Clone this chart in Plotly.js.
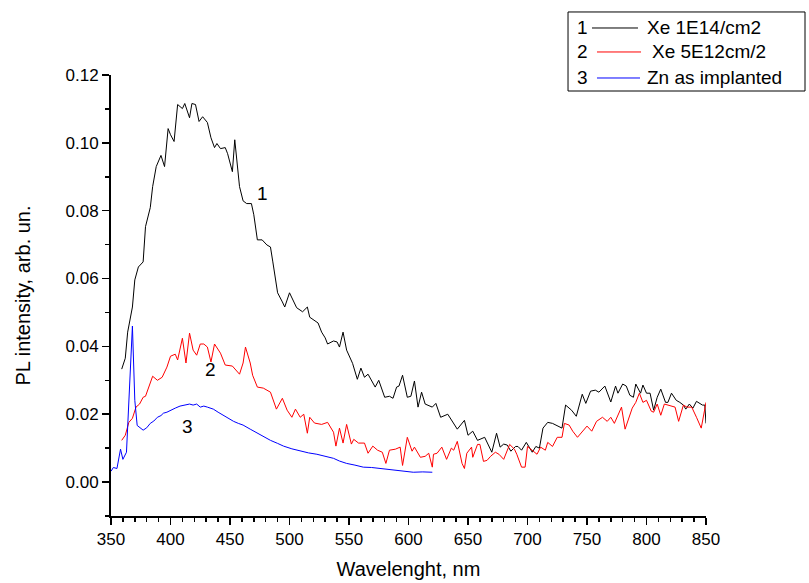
<!DOCTYPE html>
<html>
<head>
<meta charset="utf-8">
<script src="https://cdn.plot.ly/plotly-3.0.1.min.js"></script>
<style>html,body{margin:0;padding:0;background:#fff;}#chart{width:809px;height:583px;}</style>
</head>
<body>
<div id="chart"></div>
<script>
// Curve 1: Xe 1E14/cm2
const wl1 = [359,362,364,368,370,373,377,379,383,385,388,390,392,395,398,400,403,406,410,412,416,418,421,424,427,431,434,437,439,442,446,448,452,454,458,461,464,468,470,473,477,481,484,486,488,490,494,496,500,503,506,511,515,517,521,524,527,530,532,537,540,542,545,548,553,557,560,563,566,572,575,580,584,587,590,592,595,599,602,605,608,611,614,620,623,627,633,641,647,650,654,658,664,670,674,677,680,683,686,690,692,695,699,704,707,710,713,717,721,729,732,737,741,746,749,753,757,760,765,770,774,776,780,783,786,789,791,795,797,800,803,806,809,812,816,818,821,825,828,831,833,836,839,842,847,849,850];
const pl1 = [0.0333,0.0365,0.0442,0.0516,0.0596,0.0634,0.0649,0.0753,0.0809,0.0871,0.0930,0.0945,0.0963,0.0930,0.1042,0.1024,0.1004,0.1113,0.1101,0.1116,0.1074,0.1116,0.1113,0.1063,0.1077,0.1060,0.1015,0.0986,0.0998,0.0983,0.0986,0.0968,0.0915,0.1009,0.0871,0.0829,0.0821,0.0821,0.0788,0.0714,0.0714,0.0699,0.0693,0.0649,0.0605,0.0558,0.0531,0.0516,0.0558,0.0537,0.0514,0.0502,0.0516,0.0486,0.0477,0.0469,0.0442,0.0425,0.0407,0.0416,0.0413,0.0398,0.0442,0.0389,0.0350,0.0303,0.0336,0.0309,0.0318,0.0280,0.0300,0.0250,0.0253,0.0247,0.0280,0.0283,0.0315,0.0250,0.0253,0.0298,0.0221,0.0265,0.0230,0.0221,0.0232,0.0191,0.0200,0.0156,0.0182,0.0138,0.0150,0.0123,0.0132,0.0088,0.0144,0.0103,0.0112,0.0109,0.0091,0.0105,0.0105,0.0094,0.0117,0.0088,0.0105,0.0100,0.0159,0.0176,0.0173,0.0159,0.0227,0.0212,0.0194,0.0259,0.0232,0.0268,0.0271,0.0265,0.0283,0.0236,0.0283,0.0262,0.0289,0.0283,0.0256,0.0250,0.0289,0.0262,0.0286,0.0262,0.0262,0.0212,0.0250,0.0274,0.0235,0.0235,0.0262,0.0241,0.0235,0.0227,0.0215,0.0230,0.0218,0.0238,0.0227,0.0227,0.0173];

// Curve 2: Xe 5E12cm/2
const wl2 = [359,362,365,368,371,374,377,379,385,389,393,397,400,404,406,410,413,416,419,422,425,428,431,434,437,442,446,452,458,461,463,467,469,473,478,484,489,494,498,502,505,509,512,515,517,521,527,532,537,539,542,545,548,552,554,558,563,566,570,574,578,581,584,589,593,595,599,603,605,610,614,617,620,621,624,628,632,636,638,641,645,647,649,653,654,658,660,663,666,669,673,676,680,685,689,691,695,698,700,705,708,711,715,717,721,725,729,731,735,738,742,750,754,758,763,767,770,773,779,782,788,791,794,797,800,804,806,809,812,815,821,824,827,831,834,838,842,846,850];
const pl2 = [0.0123,0.0138,0.0176,0.0188,0.0221,0.0230,0.0250,0.0253,0.0312,0.0300,0.0309,0.0339,0.0371,0.0377,0.0360,0.0424,0.0351,0.0439,0.0389,0.0374,0.0407,0.0407,0.0398,0.0354,0.0407,0.0380,0.0345,0.0342,0.0318,0.0351,0.0398,0.0351,0.0315,0.0280,0.0277,0.0265,0.0215,0.0247,0.0212,0.0191,0.0215,0.0191,0.0200,0.0144,0.0191,0.0174,0.0170,0.0176,0.0147,0.0106,0.0159,0.0115,0.0170,0.0112,0.0126,0.0115,0.0115,0.0085,0.0106,0.0094,0.0088,0.0055,0.0094,0.0097,0.0103,0.0049,0.0132,0.0091,0.0103,0.0073,0.0076,0.0085,0.0044,0.0082,0.0085,0.0103,0.0067,0.0100,0.0094,0.0120,0.0055,0.0040,0.0085,0.0103,0.0073,0.0111,0.0111,0.0061,0.0064,0.0076,0.0088,0.0082,0.0067,0.0111,0.0097,0.0082,0.0044,0.0044,0.0105,0.0091,0.0082,0.0103,0.0094,0.0117,0.0105,0.0132,0.0132,0.0173,0.0168,0.0150,0.0132,0.0165,0.0150,0.0179,0.0191,0.0179,0.0191,0.0173,0.0221,0.0156,0.0218,0.0235,0.0262,0.0235,0.0241,0.0209,0.0206,0.0230,0.0197,0.0230,0.0224,0.0221,0.0179,0.0227,0.0221,0.0221,0.0191,0.0159,0.0235];

// Curve 3: Zn as implanted
const wl3 = [350,352,355,358,360,363,368,370,372,374,377,380,383,386,389,392,394,397,400,404,408,412,416,419,422,425,428,431,436,440,444,448,453,457,461,467,473,478,484,490,495,502,509,516,523,530,537,542,548,555,562,569,576,583,590,597,604,612,620];
const pl3 = [0.0032,0.0043,0.0040,0.0097,0.0067,0.0088,0.0460,0.0241,0.0167,0.0162,0.0153,0.0160,0.0173,0.0180,0.0191,0.0196,0.0203,0.0206,0.0212,0.0218,0.0224,0.0226,0.0230,0.0227,0.0230,0.0221,0.0224,0.0221,0.0215,0.0206,0.0197,0.0188,0.0179,0.0173,0.0168,0.0156,0.0144,0.0133,0.0123,0.0114,0.0106,0.0098,0.0091,0.0086,0.0082,0.0076,0.0070,0.0062,0.0055,0.0050,0.0044,0.0043,0.0040,0.0037,0.0035,0.0032,0.0029,0.0030,0.0029];

const legendNames = ["Xe 1E14/cm2", "Xe 5E12cm/2", "Zn as implanted"];
const legendNums = ["1", "2", "3"];
const colors = ["#000000", "#ff0000", "#0000ff"];
const curveLabels = [{t:"1", x:477.7, y:0.085}, {t:"2", x:433.2, y:0.0333}, {t:"3", x:414.7, y:0.0165}];

const FONT = "Arial, 'Liberation Sans', sans-serif";

const traces = [
  {x: wl1, y: pl1, name: legendNames[0], mode: "lines", line: {color: colors[0], width: 1}},
  {x: wl2, y: pl2, name: legendNames[1], mode: "lines", line: {color: colors[1], width: 1}},
  {x: wl3, y: pl3, name: legendNames[2], mode: "lines", line: {color: colors[2], width: 1}}
];

// Legend box (paper coords)
const rowY = [1.1066, 1.0522, 0.9932];
const lineX0 = [0.8084, 0.8168, 0.8168];
const lineX1 = [0.8857, 0.8908, 0.8891];
const textX = [0.8975, 0.9059, 0.8975];

const shapes = [{type: "rect", xref: "paper", yref: "paper", x0: 0.7681, x1: 1.1664, y0: 0.9637, y1: 1.1429,
  line: {color: "#000", width: 1}, fillcolor: "rgba(0,0,0,0)"}];
const annotations = [];
for (let i = 0; i < 3; i++) {
  shapes.push({type: "line", xref: "paper", yref: "paper", x0: lineX0[i], x1: lineX1[i], y0: rowY[i], y1: rowY[i],
    line: {color: colors[i], width: 1}});
  annotations.push({xref: "paper", yref: "paper", x: 0.7930, y: rowY[i], text: legendNums[i], showarrow: false,
    xanchor: "center", yanchor: "middle", font: {family: FONT, size: 19, color: "#000"}});
  annotations.push({xref: "paper", yref: "paper", x: textX[i], y: rowY[i], text: legendNames[i], showarrow: false,
    xanchor: "left", yanchor: "middle", font: {family: FONT, size: 19, color: "#000"}});
}
curveLabels.forEach(c => annotations.push({x: c.x, y: c.y, xref: "x", yref: "y", text: c.t, showarrow: false,
  font: {family: FONT, size: 19, color: "#000"}}));

const layout = {
  width: 809, height: 583,
  margin: {l: 111, r: 103, t: 75, b: 67},
  paper_bgcolor: "#fff", plot_bgcolor: "#fff",
  showlegend: false,
  font: {family: FONT, color: "#000", size: 17},
  xaxis: {
    range: [350, 850], tick0: 350, dtick: 50, ticks: "outside", ticklen: 7, tickwidth: 1.5, tickcolor: "#000",
    showline: true, linecolor: "#000", linewidth: 2, showgrid: false, zeroline: false,
    tickfont: {family: FONT, size: 17, color: "#000"},
    minor: {dtick: 10, ticks: "outside", ticklen: 4, tickwidth: 1.5, tickcolor: "#000", showgrid: false},
    title: {text: "Wavelenght, nm", font: {family: FONT, size: 20, color: "#000"}, standoff: 14},
    automargin: false
  },
  yaxis: {
    range: [-0.01, 0.12], tick0: 0, dtick: 0.02, tickformat: ".2f", ticks: "outside", ticklen: 7, tickwidth: 1.5, tickcolor: "#000",
    showline: true, linecolor: "#000", linewidth: 2, showgrid: false, zeroline: false,
    tickfont: {family: FONT, size: 17, color: "#000"},
    minor: {dtick: 0.01, ticks: "outside", ticklen: 4, tickwidth: 1.5, tickcolor: "#000", showgrid: false},
    title: {text: "PL intensity, arb. un.", font: {family: FONT, size: 20, color: "#000"}, standoff: 30},
    automargin: false
  },
  shapes: shapes,
  annotations: annotations
};

Plotly.newPlot("chart", traces, layout, {displayModeBar: false, staticPlot: true});
</script>
</body>
</html>
